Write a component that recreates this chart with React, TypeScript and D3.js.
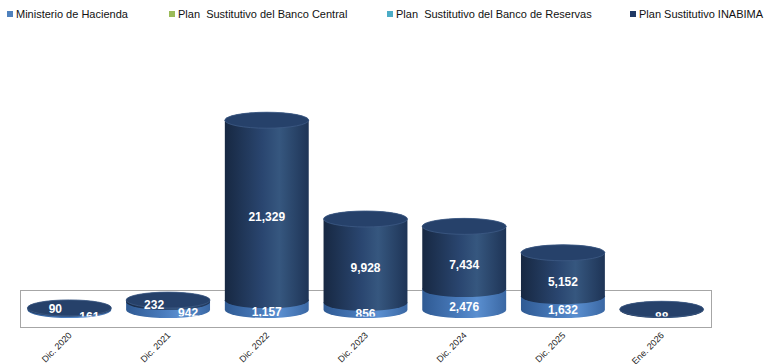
import React, { useEffect, useRef } from "react";
import * as d3 from "d3";

const categories = ["Dic. 2020", "Dic. 2021", "Dic. 2022", "Dic. 2023", "Dic. 2024", "Dic. 2025", "Ene. 2026"];
const seriesNames = [
    "Ministerio de Hacienda",
    "Plan  Sustitutivo del Banco Central",
    "Plan  Sustitutivo del Banco de Reservas",
    "Plan Sustitutivo INABIMA"
];
const hacienda = [161, 942, 1157, 856, 2476, 1632, 0];
const bancoCentral = [0, 0, 0, 0, 0, 0, 0];
const banReservas = [0, 0, 0, 0, 0, 0, 0];
const inabima = [90, 232, 21329, 9928, 7434, 5152, 88];

const W = 769;
const H = 364;

const App: React.FC = () => {
    const svgRef = useRef<SVGSVGElement>(null);

    useEffect(() => {
        if (!svgRef.current) return;
        const svg = d3.select(svgRef.current);
        svg.selectAll("*").remove();

        const font = "'Liberation Sans', Arial, sans-serif";
        const colors = ["#4f81bd", "#9bbb59", "#4bacc6", "#1f3864"];
        const series = [hacienda, bancoCentral, banReservas, inabima];

        const defs = svg.append("defs");
        // side shading per series, dark edges and a lighter band right of centre
        const sideStops: string[][] = [
            ["#2f5a93", "#4a7cbd", "#5a8fd0", "#3a67a3"],
            ["#7d9a45", "#97b657", "#a8c766", "#809e48"],
            ["#3a8ea5", "#4aa9c3", "#5bbad3", "#3b90a8"],
            ["#172842", "#2a4670", "#36577f", "#1e3456"]
        ];
        sideStops.forEach((st, i) => {
            const g = defs.append("linearGradient").attr("id", `side${i}`)
                .attr("x1", "0%").attr("x2", "100%").attr("y1", "0%").attr("y2", "0%");
            [0, 0.45, 0.65, 1].forEach((o, j) => {
                g.append("stop").attr("offset", `${o * 100}%`).attr("stop-color", st[j]);
            });
        });
        defs.append("clipPath").attr("id", "lblclip")
            .append("rect").attr("x", 0).attr("y", 0).attr("width", W).attr("height", 316.5);

        // legend
        const legendX = [7, 169, 387, 630];
        seriesNames.forEach((name, i) => {
            svg.append("rect").attr("x", legendX[i]).attr("y", 11).attr("width", 6).attr("height", 6)
                .attr("fill", colors[i]);
            svg.append("text").attr("x", legendX[i] + 9).attr("y", 18)
                .attr("font-family", font).attr("font-size", 11).attr("fill", "#111")
                .style("white-space", "pre")
                .text(name);
        });

        const x = d3.scaleBand<string>().domain(categories).range([20, 711]).padding(0);
        const y = d3.scaleLinear().domain([0, 25000]).range([310, 99]);
        const barW = x.bandwidth() * 0.85;
        const rx = barW / 2;
        const ry = 8;

        // floor
        svg.append("rect").attr("x", 20.5).attr("y", 290.5).attr("width", 691).attr("height", 37)
            .attr("fill", "none").attr("stroke", "#a6a6a6").attr("stroke-width", 1);

        const labels: { x: number; y: number; text: string; cat: number }[] = [];

        categories.forEach((cat, ci) => {
            const cx = (x(cat) || 0) + x.bandwidth() / 2;
            let acc = 0;
            let topIdx = -1;
            let topY = y(0);
            series.forEach((vals, si) => {
                const v = vals[ci];
                if (!v) return;
                const y0 = y(acc);
                const y1 = y(acc + v);
                acc += v;
                const path = `M${cx - rx},${y1} L${cx - rx},${y0} A${rx},${ry} 0 0 0 ${cx + rx},${y0} L${cx + rx},${y1} A${rx},${ry} 0 0 0 ${cx - rx},${y1} Z`;
                svg.append("path").attr("d", path).attr("fill", `url(#side${si})`);
                topIdx = si;
                topY = y1;
                labels.push({ x: cx, y: (y0 + y1) / 2 + 7, text: d3.format(",")(v), cat: ci });
            });
            if (topIdx >= 0) {
                svg.append("ellipse").attr("cx", cx).attr("cy", topY).attr("rx", rx).attr("ry", ry)
                    .attr("fill", topIdx === 3 ? "#26416a" : "#4a7bbb")
                    .attr("stroke", topIdx === 3 ? "#3d5a85" : "#6b96cc").attr("stroke-width", 0.8);
            }
        });

        // nudge labels that collide within a column
        categories.forEach((_, ci) => {
            const ls = labels.filter(l => l.cat === ci);
            for (let i = 1; i < ls.length; i++) {
                const lower = ls[i - 1];
                const upper = ls[i];
                if (Math.abs(lower.y - upper.y) < 14) {
                    lower.x += 20;
                    upper.x -= 14;
                    upper.y = lower.y - 8;
                }
            }
        });

        svg.append("g").attr("clip-path", "url(#lblclip)")
            .selectAll("text").data(labels).enter().append("text")
            .attr("x", d => d.x).attr("y", d => d.y).attr("dy", "0.35em")
            .attr("text-anchor", "middle")
            .attr("font-family", font).attr("font-size", 12).attr("font-weight", "bold")
            .attr("fill", "#ffffff")
            .text(d => d.text);

        // category labels
        categories.forEach(cat => {
            const cx = (x(cat) || 0) + x.bandwidth() / 2;
            svg.append("text")
                .attr("transform", `translate(${cx + 3},${336}) rotate(-45)`)
                .attr("text-anchor", "end")
                .attr("font-family", font).attr("font-size", 9).attr("fill", "#222")
                .text(cat);
        });
    }, []);

    return (
        <svg
            ref={svgRef}
            width={W}
            height={H}
            style={{ position: "absolute", left: 0, top: 0, background: "#ffffff" }}
        />
    );
};

export default App;
